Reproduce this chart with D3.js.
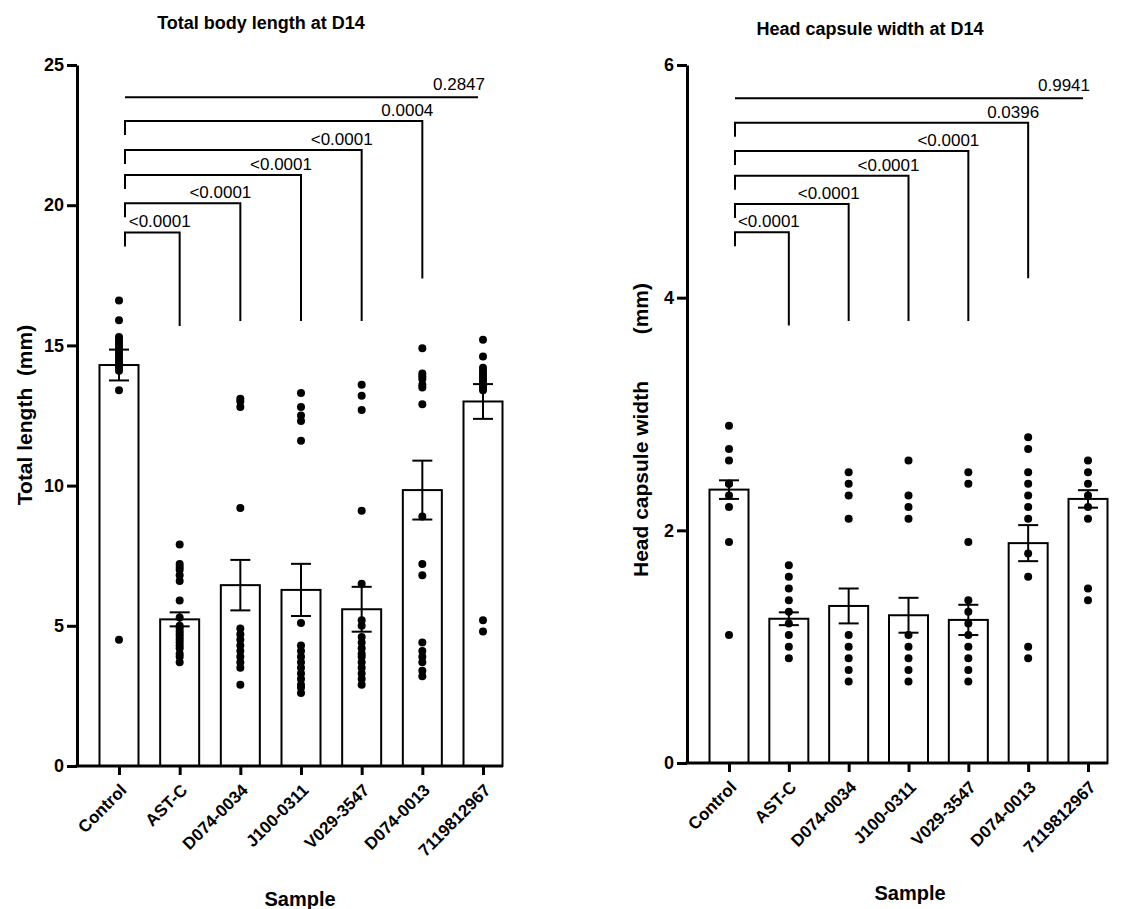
<!DOCTYPE html>
<html>
<head>
<meta charset="utf-8">
<script src="https://cdn.jsdelivr.net/npm/d3@7"></script>
<style>
  body { margin: 0; background: #fff; }
  svg { font-family: "Liberation Sans", Arial, Helvetica, sans-serif; }
</style>
</head>
<body>
<svg id="chart" width="1121" height="909"></svg>
<script>
// categories shared by both panels
const samples = ["Control", "AST-C", "D074-0034", "J100-0311", "V029-3547", "D074-0013", "7119812967"];

// Total body length (mm): bar means, SEM, individual points
const lengthMeans = [14.3, 5.23, 6.45, 6.28, 5.59, 9.84, 13.0];
const lengthSem = [0.55, 0.25, 0.9, 0.93, 0.8, 1.05, 0.62];
const lengthPoints = [
  [16.6, 15.9, 15.3, 15.2, 15.1, 15.0, 14.9, 14.8, 14.7, 14.6, 14.5, 14.4, 14.3, 14.2, 14.1, 13.4, 4.5],
  [7.9, 7.2, 7.1, 7.0, 6.8, 6.6, 5.9, 5.3, 5.0, 4.9, 4.8, 4.7, 4.6, 4.5, 4.4, 4.3, 4.2, 4.0, 3.9, 3.7],
  [13.1, 13.0, 12.8, 9.2, 4.9, 4.7, 4.5, 4.3, 4.1, 3.9, 3.7, 3.5, 2.9],
  [13.3, 12.8, 12.5, 12.3, 11.6, 5.1, 4.3, 4.1, 3.9, 3.7, 3.5, 3.3, 3.1, 2.9, 2.8, 2.6],
  [13.6, 13.2, 12.7, 9.1, 6.5, 5.2, 5.0, 4.6, 4.4, 4.2, 4.0, 3.9, 3.7, 3.5, 3.3, 3.1, 2.9],
  [14.9, 14.0, 13.9, 13.8, 13.6, 13.5, 12.9, 8.9, 7.2, 6.8, 4.4, 4.1, 3.9, 3.7, 3.4, 3.2],
  [15.2, 14.6, 14.2, 14.1, 14.0, 13.9, 13.8, 13.7, 13.6, 13.5, 13.4, 5.2, 4.8]
];
const lengthTicks = [0, 5, 10, 15, 20, 25];

// Head capsule width (mm)
const widthMeans = [2.35, 1.24, 1.35, 1.27, 1.23, 1.89, 2.27];
const widthSem = [0.08, 0.055, 0.15, 0.15, 0.13, 0.155, 0.075];
const widthPoints = [
  [2.9, 2.7, 2.6, 2.4, 2.4, 2.3, 2.2, 1.9, 1.1],
  [1.7, 1.6, 1.5, 1.4, 1.3, 1.2, 1.1, 1.0, 0.9],
  [2.5, 2.4, 2.3, 2.1, 1.1, 1.0, 0.9, 0.8, 0.7],
  [2.6, 2.3, 2.2, 2.1, 1.1, 1.0, 0.9, 0.8, 0.7],
  [2.5, 2.4, 1.9, 1.4, 1.3, 1.2, 1.1, 1.0, 0.9, 0.8, 0.7],
  [2.8, 2.7, 2.5, 2.4, 2.3, 2.2, 2.1, 1.8, 1.6, 1.0, 0.9],
  [2.6, 2.5, 2.4, 2.3, 2.2, 2.1, 1.5, 1.4]
];
const widthTicks = [0, 2, 4, 6];

// comparisons vs Control (bracket level, end of right leg, p value)
const compareTo = ["AST-C", "D074-0034", "J100-0311", "V029-3547", "D074-0013", "7119812967"];
const lengthLevels = [19.03, 20.07, 21.08, 21.97, 23.0, 23.85];
const lengthLegEnds = [15.69, 15.87, 15.87, 15.87, 17.39, null];
const lengthP = ["<0.0001", "<0.0001", "<0.0001", "<0.0001", "0.0004", "0.2847"];
const widthLevels = [4.562, 4.805, 5.049, 5.261, 5.504, 5.714];
const widthLegEnds = [3.76, 3.80, 3.80, 3.80, 4.167, null];
const widthP = ["<0.0001", "<0.0001", "<0.0001", "<0.0001", "0.0396", "0.9941"];

const svg = d3.select("#chart");

function drawPanel(opt) {
  const g = svg.append("g");

  const x = d3.scalePoint().domain(samples).range([opt.left + 42, opt.axisEnd - 20]);
  const y = d3.scaleLinear().domain([0, opt.ticks[opt.ticks.length - 1]]).range([opt.bottom, 65]);
  const barW = 39;

  // bars
  g.selectAll(".bar")
    .data(samples)
    .join("rect")
    .attr("class", "bar")
    .attr("x", d => x(d) - barW / 2)
    .attr("y", (d, i) => y(opt.means[i]))
    .attr("width", barW)
    .attr("height", (d, i) => opt.bottom - y(opt.means[i]))
    .attr("fill", "#fff")
    .attr("stroke", "#000")
    .attr("stroke-width", 2);

  // points
  samples.forEach((s, i) => {
    g.selectAll(null)
      .data(opt.points[i])
      .join("circle")
      .attr("cx", x(s))
      .attr("cy", d => y(d))
      .attr("r", 4)
      .attr("fill", "#000");
  });

  // error bars (mean +/- SEM)
  samples.forEach((s, i) => {
    const hi = y(opt.means[i] + opt.sem[i]);
    const lo = y(opt.means[i] - opt.sem[i]);
    const cx = x(s);
    g.append("line").attr("x1", cx).attr("x2", cx).attr("y1", hi).attr("y2", lo);
    g.append("line").attr("x1", cx - 10).attr("x2", cx + 10).attr("y1", hi).attr("y2", hi);
    g.append("line").attr("x1", cx - 10).attr("x2", cx + 10).attr("y1", lo).attr("y2", lo);
  });
  g.selectAll("line").attr("stroke", "#000").attr("stroke-width", 2);

  // significance brackets
  const x0 = x("Control") + 6;
  compareTo.forEach((s, i) => {
    const ly = y(opt.levels[i]);
    const xr = x(s);
    const b = g.append("g").attr("stroke", "#000").attr("stroke-width", 2).attr("fill", "none");
    if (opt.legEnds[i] === null) {
      b.append("line").attr("x1", x0).attr("x2", xr - 5).attr("y1", ly).attr("y2", ly);
      g.append("text").attr("x", xr + 2).attr("y", ly - 7)
        .attr("text-anchor", "end").attr("font-size", 17).text(opt.pvals[i]);
    } else {
      b.append("path")
        .attr("d", `M${x0},${ly + 14}V${ly}H${xr}V${y(opt.legEnds[i])}`);
      g.append("text").attr("x", xr + 11).attr("y", ly - 5)
        .attr("text-anchor", "end").attr("font-size", 17).text(opt.pvals[i]);
    }
  });

  // y axis
  const yAxis = g.append("g")
    .attr("transform", `translate(${opt.left},0)`)
    .call(d3.axisLeft(y).tickValues(opt.ticks).tickFormat(d3.format("d"))
      .tickSize(10).tickSizeOuter(0).tickPadding(3));
  yAxis.selectAll("text").attr("font-size", 18).attr("font-weight", "bold").attr("fill", "#000");

  // x axis
  const xAxis = g.append("g")
    .attr("transform", `translate(0,${opt.bottom})`)
    .call(d3.axisBottom(x).tickSize(9).tickSizeOuter(0));
  xAxis.select(".domain").remove();
  xAxis.append("line")
    .attr("x1", opt.left - 1.5).attr("x2", opt.axisEnd)
    .attr("y1", 0).attr("y2", 0);
  xAxis.selectAll("text")
    .attr("font-size", 17).attr("font-weight", "bold").attr("fill", "#000")
    .attr("text-anchor", "end")
    .attr("x", 0).attr("y", 0).attr("dy", "0.35em")
    .attr("transform", "translate(4,21) rotate(-45)");

  [yAxis, xAxis].forEach(a => {
    a.selectAll(".domain, line").attr("stroke", "#000").attr("stroke-width", 3);
  });

  // titles
  g.append("text")
    .attr("x", opt.titleX).attr("y", opt.titleY)
    .attr("text-anchor", "middle").attr("font-size", 18).attr("font-weight", "bold")
    .text(opt.title);
  g.append("text")
    .attr("x", opt.sampleX).attr("y", opt.sampleY)
    .attr("text-anchor", "middle").attr("font-size", 20).attr("font-weight", "bold")
    .text("Sample");
  g.append("text")
    .attr("transform", `translate(${opt.yTitleX},${opt.yTitleY}) rotate(-90)`)
    .attr("text-anchor", "middle").attr("font-size", 21).attr("font-weight", "bold")
    .attr("xml:space", "preserve").style("white-space", "pre")
    .text(opt.yTitle);
}

drawPanel({
  left: 77, bottom: 766, axisEnd: 503,
  ticks: lengthTicks, means: lengthMeans, sem: lengthSem, points: lengthPoints,
  levels: lengthLevels, legEnds: lengthLegEnds, pvals: lengthP,
  title: "Total body length at D14", titleX: 261, titleY: 29,
  sampleX: 300, sampleY: 906,
  yTitle: "Total length  (mm)", yTitleX: 32, yTitleY: 415
});

drawPanel({
  left: 687, bottom: 763, axisEnd: 1108,
  ticks: widthTicks, means: widthMeans, sem: widthSem, points: widthPoints,
  levels: widthLevels, legEnds: widthLegEnds, pvals: widthP,
  title: "Head capsule width at D14", titleX: 870, titleY: 35,
  sampleX: 910, sampleY: 900,
  yTitle: "Head capsule width        (mm)", yTitleX: 648, yTitleY: 430
});
</script>
</body>
</html>
